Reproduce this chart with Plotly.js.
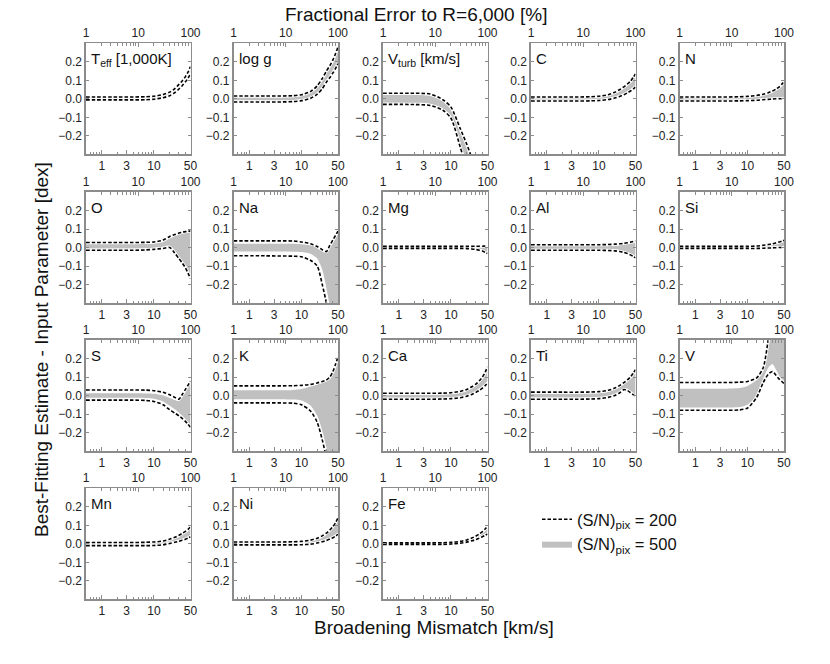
<!DOCTYPE html>
<html>
<head>
<meta charset="utf-8">
<script src="https://cdn.plot.ly/plotly-3.0.1.min.js"></script>
<style>
  html, body { margin: 0; padding: 0; background: #fff; }
  #chart { width: 830px; height: 664px; }
</style>
</head>
<body>
<div id="chart"></div>
<script>
// broadening mismatch grid [km/s], shared by every panel
const X = [0.5, 2, 4, 7, 10, 15, 20, 25, 30, 35, 40, 45, 50];

// each panel: [upper S/N=200, lower S/N=200, upper S/N=500, lower S/N=500]
const teff = [
  [0.010, 0.010, 0.010, 0.011, 0.014, 0.023, 0.036, 0.055, 0.078, 0.098, 0.120, 0.145, 0.175],
  [-0.006, -0.006, -0.006, -0.005, -0.002, 0.006, 0.017, 0.033, 0.053, 0.072, 0.092, 0.112, 0.135],
  [0.006, 0.006, 0.006, 0.007, 0.010, 0.019, 0.031, 0.050, 0.072, 0.091, 0.112, 0.137, 0.166],
  [-0.002, -0.002, -0.002, -0.001, 0.002, 0.010, 0.022, 0.038, 0.059, 0.079, 0.100, 0.120, 0.144]
];
const logg = [
  [0.015, 0.015, 0.015, 0.017, 0.022, 0.040, 0.070, 0.110, 0.150, 0.180, 0.210, 0.245, 0.280],
  [-0.017, -0.017, -0.017, -0.015, -0.010, 0.003, 0.025, 0.055, 0.090, 0.115, 0.140, 0.165, 0.190],
  [0.010, 0.010, 0.010, 0.012, 0.017, 0.034, 0.063, 0.102, 0.141, 0.170, 0.200, 0.234, 0.268],
  [-0.011, -0.011, -0.011, -0.009, -0.004, 0.009, 0.032, 0.063, 0.099, 0.125, 0.150, 0.176, 0.202]
];
const vturb = [
  [0.030, 0.030, 0.026, -0.005, -0.045, -0.160, -0.245, -0.320, -0.400, -0.500, -0.600, -0.700, -0.800],
  [-0.030, -0.031, -0.036, -0.062, -0.105, -0.260, -0.380, -0.500, -0.600, -0.700, -0.800, -0.900, -1.000],
  [0.021, 0.021, 0.017, -0.013, -0.055, -0.175, -0.260, -0.340, -0.420, -0.520, -0.620, -0.720, -0.820],
  [-0.021, -0.022, -0.027, -0.052, -0.094, -0.245, -0.360, -0.480, -0.580, -0.680, -0.780, -0.880, -0.980]
];
const carbon = [
  [0.010, 0.010, 0.010, 0.011, 0.014, 0.022, 0.035, 0.050, 0.065, 0.080, 0.095, 0.115, 0.135],
  [-0.012, -0.012, -0.012, -0.011, -0.009, -0.004, 0.004, 0.013, 0.022, 0.032, 0.042, 0.052, 0.063],
  [0.006, 0.006, 0.006, 0.007, 0.010, 0.017, 0.029, 0.043, 0.057, 0.071, 0.085, 0.104, 0.124],
  [-0.008, -0.008, -0.008, -0.007, -0.005, 0.000, 0.009, 0.019, 0.029, 0.040, 0.051, 0.062, 0.074]
];
const nitrogen = [
  [0.010, 0.010, 0.010, 0.011, 0.013, 0.018, 0.025, 0.033, 0.042, 0.052, 0.063, 0.078, 0.095],
  [-0.012, -0.012, -0.012, -0.011, -0.010, -0.008, -0.005, -0.003, -0.001, 0.000, 0.000, 0.000, 0.000],
  [0.007, 0.007, 0.007, 0.008, 0.010, 0.014, 0.020, 0.028, 0.037, 0.047, 0.058, 0.073, 0.090],
  [-0.008, -0.008, -0.008, -0.007, -0.006, -0.005, -0.002, 0.000, 0.002, 0.003, 0.003, 0.003, 0.003]
];
const oxygen = [
  [0.027, 0.027, 0.027, 0.028, 0.030, 0.040, 0.060, 0.070, 0.078, 0.083, 0.086, 0.088, 0.090],
  [-0.015, -0.015, -0.015, -0.013, -0.010, -0.005, 0.000, -0.030, -0.060, -0.085, -0.110, -0.140, -0.167],
  [0.018, 0.018, 0.018, 0.019, 0.021, 0.030, 0.048, 0.062, 0.072, 0.078, 0.082, 0.085, 0.087],
  [-0.006, -0.006, -0.006, -0.005, -0.002, 0.004, 0.010, -0.018, -0.050, -0.075, -0.100, -0.130, -0.160]
];
const sodium = [
  [0.036, 0.036, 0.036, 0.035, 0.030, 0.020, 0.005, -0.012, -0.022, 0.013, 0.041, 0.066, 0.089],
  [-0.045, -0.045, -0.046, -0.047, -0.050, -0.070, -0.100, -0.200, -0.300, -0.400, -0.500, -0.600, -0.700],
  [0.020, 0.020, 0.020, 0.020, 0.018, 0.012, 0.002, -0.013, -0.022, 0.008, 0.035, 0.060, 0.083],
  [-0.022, -0.022, -0.022, -0.023, -0.025, -0.035, -0.060, -0.120, -0.220, -0.320, -0.420, -0.520, -0.620]
];
const magnesium = [
  [0.006, 0.006, 0.006, 0.006, 0.006, 0.006, 0.006, 0.006, 0.007, 0.007, 0.007, 0.008, 0.008],
  [-0.005, -0.005, -0.005, -0.005, -0.005, -0.005, -0.006, -0.008, -0.011, -0.015, -0.019, -0.026, -0.033],
  [0.003, 0.003, 0.003, 0.003, 0.003, 0.003, 0.003, 0.003, 0.004, 0.004, 0.004, 0.005, 0.005],
  [-0.002, -0.002, -0.002, -0.002, -0.002, -0.002, -0.003, -0.005, -0.008, -0.012, -0.016, -0.022, -0.028]
];
const aluminium = [
  [0.015, 0.015, 0.015, 0.015, 0.015, 0.016, 0.018, 0.020, 0.023, 0.026, 0.029, 0.032, 0.036],
  [-0.015, -0.015, -0.015, -0.015, -0.015, -0.016, -0.018, -0.022, -0.027, -0.033, -0.040, -0.048, -0.056],
  [0.009, 0.009, 0.009, 0.009, 0.009, 0.010, 0.012, 0.015, 0.018, 0.021, 0.025, 0.028, 0.032],
  [-0.008, -0.008, -0.008, -0.008, -0.008, -0.009, -0.011, -0.015, -0.020, -0.027, -0.034, -0.042, -0.050]
];
const silicon = [
  [0.006, 0.006, 0.006, 0.006, 0.006, 0.008, 0.012, 0.016, 0.020, 0.025, 0.030, 0.034, 0.039],
  [-0.005, -0.005, -0.005, -0.005, -0.005, -0.005, -0.004, -0.003, -0.002, -0.001, 0.000, 0.000, 0.000],
  [0.003, 0.003, 0.003, 0.003, 0.003, 0.005, 0.009, 0.013, 0.017, 0.021, 0.026, 0.030, 0.035],
  [-0.002, -0.002, -0.002, -0.002, -0.002, -0.002, -0.001, 0.000, 0.001, 0.002, 0.003, 0.003, 0.003]
];
const sulfur = [
  [0.030, 0.030, 0.030, 0.029, 0.026, 0.017, 0.004, -0.010, -0.020, 0.007, 0.033, 0.056, 0.078],
  [-0.025, -0.025, -0.025, -0.027, -0.032, -0.050, -0.077, -0.095, -0.110, -0.125, -0.140, -0.156, -0.172],
  [0.012, 0.012, 0.012, 0.011, 0.009, 0.000, -0.013, -0.024, -0.030, 0.000, 0.027, 0.050, 0.073],
  [-0.012, -0.012, -0.012, -0.013, -0.017, -0.032, -0.056, -0.075, -0.092, -0.110, -0.128, -0.148, -0.166]
];
const potassium = [
  [0.052, 0.052, 0.052, 0.053, 0.055, 0.060, 0.068, 0.076, 0.084, 0.100, 0.130, 0.170, 0.210],
  [-0.040, -0.040, -0.040, -0.042, -0.050, -0.085, -0.145, -0.240, -0.340, -0.450, -0.600, -0.750, -0.900],
  [0.028, 0.028, 0.028, 0.030, 0.035, 0.048, 0.060, 0.070, 0.080, 0.095, 0.125, 0.165, 0.205],
  [-0.020, -0.020, -0.020, -0.022, -0.027, -0.055, -0.110, -0.190, -0.280, -0.380, -0.500, -0.650, -0.800]
];
const calcium = [
  [0.012, 0.012, 0.012, 0.013, 0.015, 0.022, 0.033, 0.047, 0.062, 0.080, 0.100, 0.125, 0.155],
  [-0.020, -0.020, -0.020, -0.019, -0.017, -0.012, -0.004, 0.006, 0.017, 0.028, 0.040, 0.053, 0.067],
  [0.007, 0.007, 0.007, 0.008, 0.010, 0.016, 0.026, 0.039, 0.053, 0.070, 0.089, 0.113, 0.142],
  [-0.014, -0.014, -0.014, -0.013, -0.011, -0.006, 0.002, 0.012, 0.024, 0.036, 0.049, 0.063, 0.078]
];
const titanium = [
  [0.018, 0.018, 0.018, 0.019, 0.021, 0.028, 0.040, 0.055, 0.070, 0.085, 0.100, 0.120, 0.140],
  [-0.020, -0.020, -0.020, -0.019, -0.017, -0.010, 0.000, 0.015, 0.032, 0.027, 0.016, 0.005, -0.005],
  [0.010, 0.010, 0.010, 0.011, 0.013, 0.020, 0.032, 0.046, 0.062, 0.078, 0.095, 0.115, 0.135],
  [-0.012, -0.012, -0.012, -0.011, -0.009, -0.003, 0.008, 0.022, 0.038, 0.032, 0.020, 0.009, -0.001]
];
const vanadium = [
  [0.070, 0.070, 0.070, 0.072, 0.076, 0.095, 0.150, 0.300, 0.420, 0.500, 0.550, 0.600, 0.650],
  [-0.080, -0.080, -0.080, -0.078, -0.068, -0.010, 0.070, 0.115, 0.130, 0.110, 0.090, 0.077, 0.065],
  [0.037, 0.037, 0.037, 0.040, 0.052, 0.085, 0.140, 0.290, 0.400, 0.450, 0.500, 0.550, 0.600],
  [-0.065, -0.065, -0.065, -0.062, -0.050, 0.000, 0.090, 0.150, 0.170, 0.140, 0.110, 0.090, 0.080]
];
const manganese = [
  [0.007, 0.007, 0.007, 0.008, 0.010, 0.015, 0.025, 0.035, 0.046, 0.057, 0.067, 0.078, 0.092],
  [-0.010, -0.010, -0.010, -0.010, -0.009, -0.005, 0.002, 0.008, 0.014, 0.020, 0.025, 0.031, 0.038],
  [0.003, 0.003, 0.003, 0.004, 0.006, 0.011, 0.020, 0.030, 0.040, 0.050, 0.060, 0.070, 0.083],
  [-0.006, -0.006, -0.006, -0.006, -0.005, -0.001, 0.006, 0.012, 0.019, 0.025, 0.031, 0.038, 0.046]
];
const nickel = [
  [0.010, 0.010, 0.010, 0.011, 0.013, 0.020, 0.030, 0.043, 0.058, 0.075, 0.093, 0.115, 0.140],
  [-0.006, -0.006, -0.006, -0.006, -0.005, -0.002, 0.004, 0.011, 0.018, 0.026, 0.033, 0.042, 0.051],
  [0.006, 0.006, 0.006, 0.007, 0.009, 0.015, 0.025, 0.037, 0.051, 0.067, 0.084, 0.105, 0.128],
  [-0.002, -0.002, -0.002, -0.002, -0.001, 0.002, 0.008, 0.016, 0.024, 0.032, 0.041, 0.050, 0.060]
];
const iron = [
  [0.005, 0.005, 0.005, 0.006, 0.008, 0.013, 0.021, 0.031, 0.042, 0.054, 0.066, 0.080, 0.096],
  [-0.003, -0.003, -0.003, -0.003, -0.001, 0.003, 0.009, 0.016, 0.023, 0.031, 0.038, 0.046, 0.054],
  [0.002, 0.002, 0.002, 0.003, 0.005, 0.010, 0.017, 0.026, 0.036, 0.047, 0.058, 0.071, 0.086],
  [0.000, 0.000, 0.000, 0.000, 0.002, 0.006, 0.012, 0.020, 0.028, 0.037, 0.045, 0.054, 0.063]
];

const PANELS = [teff, logg, vturb, carbon, nitrogen, oxygen, sodium, magnesium, aluminium, silicon,
  sulfur, potassium, calcium, titanium, vanadium, manganese, nickel, iron];
const LABELS = ['T<sub>eff</sub> [1,000K]', 'log g', 'V<sub>turb</sub> [km/s]', 'C', 'N',
  'O', 'Na', 'Mg', 'Al', 'Si', 'S', 'K', 'Ca', 'Ti', 'V', 'Mn', 'Ni', 'Fe'];

const BOTTOM_TICKS = [1, 3, 10, 50];
const BOTTOM_MINOR = [0.6, 0.7, 0.8, 0.9, 2, 4, 5, 6, 7, 8, 9, 20, 30, 40];
const TOP_TICKS = [1, 10, 100];
const TOP_MINOR = [2, 3, 4, 5, 6, 7, 8, 9, 20, 30, 40, 50, 60, 70, 80, 90];
const Y_TICKS = [-0.2, -0.1, 0, 0.1, 0.2];
const LEGEND_NAMES = ['(S/N)<sub>pix</sub> = 200', '(S/N)<sub>pix</sub> = 500'];

// page geometry in pixels
const W = 830, H = 664;
const COL_LEFT = [86, 233.5, 383, 531, 679.5];
const ROW_TOP = [43.3, 192, 340, 488.3];
const PW = 104.5, PH = 111;
const FONT = 'Liberation Sans, Arial, sans-serif';
const FRAME = '#8c8c8c';
const GREY = '#c0c0c0';

const traces = [];
const layout = {
  width: W, height: H,
  margin: { l: 0, r: 0, t: 0, b: 0 },
  paper_bgcolor: '#fff', plot_bgcolor: '#fff',
  font: { family: FONT, color: '#222', size: 12 },
  showlegend: true,
  legend: {
    x: 0.647, y: 0.244, xanchor: 'left', yanchor: 'top',
    font: { family: FONT, size: 16.5, color: '#111' },
    bgcolor: 'rgba(0,0,0,0)', itemwidth: 30, tracegroupgap: 0
  },
  annotations: [
    { text: 'Fractional Error to R=6,000 [%]', x: 416 / W, y: 1 - 14 / H, xref: 'paper', yref: 'paper',
      showarrow: false, xanchor: 'center', yanchor: 'middle', font: { size: 19, family: FONT, color: '#111' } },
    { text: 'Broadening Mismatch [km/s]', x: 434 / W, y: 1 - 627 / H, xref: 'paper', yref: 'paper',
      showarrow: false, xanchor: 'center', yanchor: 'middle', font: { size: 19, family: FONT, color: '#111' } },
    { text: 'Best-Fitting Estimate - Input Parameter [dex]', x: 41 / W, y: 1 - 350 / H, xref: 'paper', yref: 'paper',
      showarrow: false, textangle: -90, xanchor: 'center', yanchor: 'middle', font: { size: 19, family: FONT, color: '#111' } }
  ]
};

PANELS.forEach((d, i) => {
  const r = Math.floor(i / 5), c = i % 5;
  const n = i + 1, top = i + 1 + PANELS.length;
  const xa = 'x' + n, ya = 'y' + n;
  const left = COL_LEFT[c], tp = ROW_TOP[r];
  const first = i === 0;

  layout['xaxis' + n] = {
    type: 'log', domain: [left / W, (left + PW) / W], anchor: ya,
    range: [Math.log10(0.5), Math.log10(50)],
    tickmode: 'array', tickvals: BOTTOM_TICKS, ticktext: BOTTOM_TICKS.map(String),
    ticks: 'inside', ticklen: 4, tickcolor: FRAME, tickwidth: 1,
    minor: { tickmode: 'array', tickvals: BOTTOM_MINOR, ticks: 'inside', ticklen: 2.5, tickcolor: FRAME, showgrid: false },
    showline: true, linecolor: FRAME, linewidth: 1.6, mirror: false,
    showgrid: false, zeroline: false, tickfont: { size: 12, color: '#222' }
  };
  layout['xaxis' + top] = {
    type: 'log', overlaying: xa, anchor: ya, side: 'top',
    range: [0, 2],
    tickmode: 'array', tickvals: TOP_TICKS, ticktext: TOP_TICKS.map(String),
    ticks: 'inside', ticklen: 4, tickcolor: FRAME, tickwidth: 1,
    minor: { tickmode: 'array', tickvals: TOP_MINOR, ticks: 'inside', ticklen: 2.5, tickcolor: FRAME, showgrid: false },
    showline: true, linecolor: FRAME, linewidth: 1.6,
    showgrid: false, zeroline: false, tickfont: { size: 12, color: '#222' }
  };
  layout['yaxis' + n] = {
    domain: [1 - (tp + PH) / H, 1 - tp / H], anchor: xa,
    range: [-0.3, 0.3],
    tickmode: 'array', tickvals: Y_TICKS, tickformat: '.1f',
    ticks: 'inside', ticklen: 3, tickcolor: FRAME,
    showline: true, linecolor: FRAME, linewidth: 1.6, mirror: 'ticks',
    showgrid: false, zeroline: false, tickfont: { size: 12, color: '#222' }
  };

  const [hi200, lo200, hi500, lo500] = d;
  const base = { x: X, xaxis: xa, yaxis: ya, type: 'scatter', mode: 'lines', hoverinfo: 'skip' };
  const spl = { shape: 'spline', smoothing: 0.7 };

  // grey band (S/N = 500)
  traces.push({ ...base, y: lo500, line: { ...spl, width: 0 }, showlegend: false });
  traces.push({ ...base, y: hi500, line: { ...spl, width: 0 }, fill: 'tonexty', fillcolor: GREY,
    name: LEGEND_NAMES[1], legendgroup: 'g500', legendrank: 2, showlegend: first });

  // dashed bounds (S/N = 200), drawn over a thin white halo
  [hi200, lo200].forEach(yv => {
    traces.push({ ...base, y: yv, line: { ...spl, width: 3.2, color: '#fff' }, showlegend: false });
  });
  [hi200, lo200].forEach((yv, k) => {
    traces.push({ ...base, y: yv, line: { ...spl, width: 1.6, color: '#000', dash: '3.5px,2px' },
      name: LEGEND_NAMES[0], legendgroup: 'g200', legendrank: 1, showlegend: first && k === 0 });
  });

  // keeps the top (fractional error) axis alive
  traces.push({ x: TOP_TICKS, y: [0, 0, 0], xaxis: 'x' + top, yaxis: ya, type: 'scatter', mode: 'none',
    hoverinfo: 'skip', showlegend: false });

  layout.annotations.push({
    text: LABELS[i], xref: xa + ' domain', yref: ya + ' domain', x: 0.03, y: 0.955,
    xanchor: 'left', yanchor: 'top', showarrow: false,
    font: { size: 15, family: FONT, color: '#111' }
  });
});

Plotly.newPlot('chart', traces, layout, { displayModeBar: false, staticPlot: true });
</script>
</body>
</html>
